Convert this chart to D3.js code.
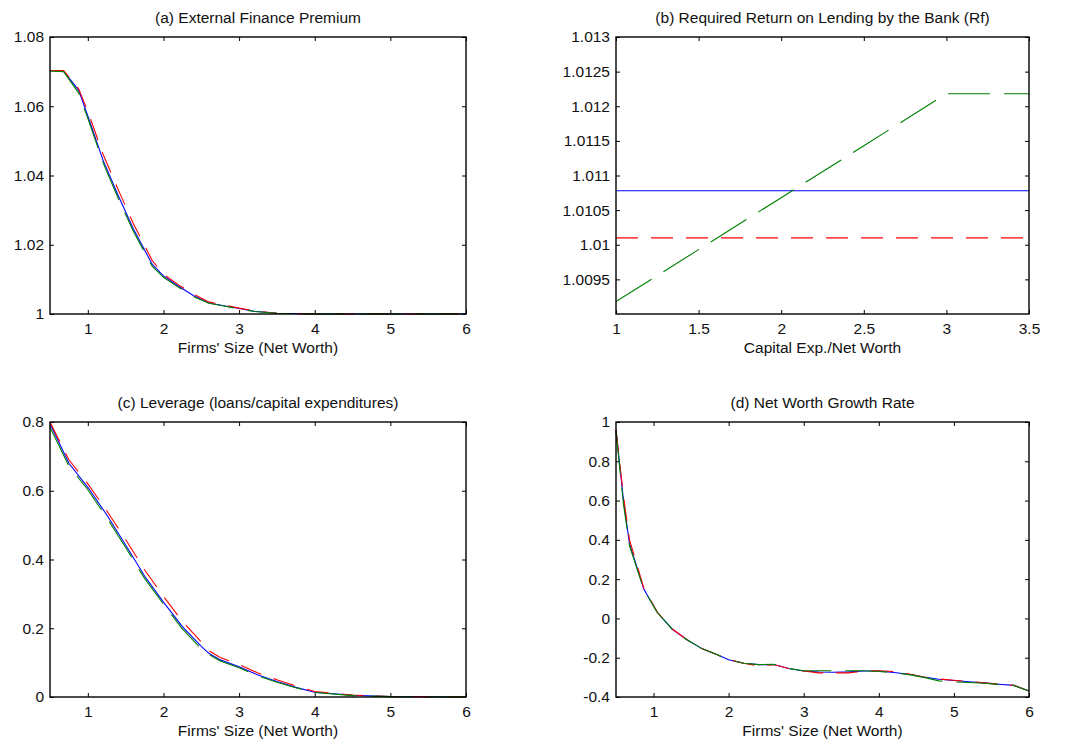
<!DOCTYPE html>
<html><head><meta charset="utf-8">
<script src="https://cdn.jsdelivr.net/npm/d3@7"></script>
<style>
body{margin:0;background:#fff}
text{font-family:"Liberation Sans",Arial,Helvetica,sans-serif;fill:#111}
</style>
</head><body>
<svg id="chart" width="1073" height="744"></svg>
<script>
// ---------- data ----------
// (a) External Finance Premium
const xA = [0.5, 0.68, 0.88, 1.0, 1.2, 1.4, 1.6, 1.85, 2.0, 2.2, 2.4, 2.6, 2.8, 3.0, 3.2, 3.5, 4, 5, 6];
const aBlue  = [1.0703, 1.0702, 1.0646, 1.0572, 1.0445, 1.0343, 1.0247, 1.0144, 1.0110, 1.0080, 1.0053, 1.0032, 1.0024, 1.0016, 1.0008, 1.0002, 1.0, 1.0, 1.0];
const aRed   = [1.0703, 1.0703, 1.0650, 1.0585, 1.0462, 1.0360, 1.0262, 1.0155, 1.0115, 1.0084, 1.0057, 1.0035, 1.0026, 1.0017, 1.0009, 1.0002, 1.0, 1.0, 1.0];
const aGreen = [1.0702, 1.0700, 1.0638, 1.0565, 1.0438, 1.0335, 1.0240, 1.0138, 1.0106, 1.0077, 1.0050, 1.0031, 1.0023, 1.0015, 1.0007, 1.0002, 1.0, 1.0, 1.0];

// (b) Required Return on Lending by the Bank (Rf)
const xB = [1, 1.5, 2, 2.5, 3, 3.5];
const bBlue  = [1.01078, 1.01078, 1.01078, 1.01078, 1.01078, 1.01078];
const bRed   = [1.0101, 1.0101, 1.0101, 1.0101, 1.0101, 1.0101];
const bGreen = [1.00918, 1.00993, 1.01068, 1.01143, 1.01218, 1.01218];

// (c) Leverage (loans/capital expenditures)
const xC = [0.5, 0.75, 1.0, 1.25, 1.5, 1.75, 2.0, 2.25, 2.5, 2.6, 2.75, 3.0, 3.25, 3.5, 3.75, 4.0, 4.5, 5, 6];
const cBlue  = [0.795, 0.680, 0.610, 0.530, 0.442, 0.352, 0.276, 0.205, 0.147, 0.127, 0.108, 0.088, 0.064, 0.045, 0.028, 0.014, 0.005, 0.001, 0.0];
const cRed   = [0.800, 0.690, 0.620, 0.542, 0.458, 0.370, 0.293, 0.220, 0.160, 0.135, 0.115, 0.094, 0.070, 0.050, 0.032, 0.016, 0.006, 0.001, 0.0];
const cGreen = [0.785, 0.672, 0.603, 0.522, 0.435, 0.345, 0.270, 0.198, 0.140, 0.124, 0.105, 0.085, 0.061, 0.043, 0.027, 0.013, 0.004, 0.001, 0.0];

// (d) Net Worth Growth Rate
const xD = [0.5, 0.6, 0.68, 0.87, 1.05, 1.25, 1.45, 1.65, 1.85, 2.0, 2.2, 2.4, 2.6, 2.8, 3.0, 3.2, 3.4, 3.6, 3.8, 4.0, 4.2, 4.4, 4.6, 4.8, 5.0, 5.2, 5.4, 5.6, 5.8, 6.0];
const dBlue  = [0.96, 0.60, 0.38, 0.15, 0.03, -0.055, -0.11, -0.155, -0.185, -0.21, -0.228, -0.235, -0.235, -0.255, -0.268, -0.273, -0.274, -0.272, -0.268, -0.268, -0.275, -0.284, -0.298, -0.310, -0.316, -0.322, -0.328, -0.335, -0.341, -0.370];
const dRed   = [0.96, 0.62, 0.40, 0.155, 0.032, -0.054, -0.11, -0.155, -0.185, -0.21, -0.228, -0.242, -0.235, -0.255, -0.268, -0.277, -0.277, -0.277, -0.268, -0.266, -0.270, -0.283, -0.298, -0.308, -0.315, -0.321, -0.328, -0.335, -0.341, -0.370];
const dGreen = [0.95, 0.58, 0.37, 0.148, 0.03, -0.055, -0.11, -0.155, -0.185, -0.21, -0.228, -0.235, -0.234, -0.255, -0.266, -0.266, -0.266, -0.266, -0.266, -0.270, -0.276, -0.286, -0.300, -0.318, -0.323, -0.326, -0.330, -0.336, -0.342, -0.370];

// ticks and labels
const xTicksSize = [1, 2, 3, 4, 5, 6];
const xTicksB = [1, 1.5, 2, 2.5, 3, 3.5];
const yTicksA = [1, 1.02, 1.04, 1.06, 1.08];
const yTicksB = [1.0095, 1.01, 1.0105, 1.011, 1.0115, 1.012, 1.0125, 1.013];
const yTicksC = [0, 0.2, 0.4, 0.6, 0.8];
const yTicksD = [-0.4, -0.2, 0, 0.2, 0.4, 0.6, 0.8, 1];
const titles = ["(a) External Finance Premium", "(b) Required Return on Lending by the Bank (Rf)",
                "(c) Leverage (loans/capital expenditures)", "(d) Net Worth Growth Rate"];
const xLabels = ["Firms' Size (Net Worth)", "Capital Exp./Net Worth", "Firms' Size (Net Worth)", "Firms' Size (Net Worth)"];

// ---------- drawing ----------
const svg = d3.select("#chart");
const FS = 15.5;
const styles = {
  blue:  {color: "#0000ff", dash: null},
  red:   {color: "#ff0000", dash: "22,13"},
  green: {color: "#008000", dash: "42,14"}
};
const fmt = d => String(+d.toFixed(6));

function panel(box, xDom, yDom, xTicks, yTicks, xs, series, title, xlabel) {
  const g = svg.append("g");
  const x = d3.scaleLinear().domain(xDom).range([box.l, box.r]);
  const y = d3.scaleLinear().domain(yDom).range([box.b, box.t]);
  const tl = 4;

  const styleAxis = sel => {
    sel.select(".domain").remove();
    sel.selectAll(".tick line").attr("stroke", "#000").attr("stroke-width", 1);
    sel.selectAll("text").style("font-size", FS + "px").attr("fill", "#111");
  };
  g.append("g").attr("transform", `translate(0,${box.b})`)
    .call(d3.axisBottom(x).tickValues(xTicks).tickFormat(fmt).tickSize(-tl).tickSizeOuter(0).tickPadding(9))
    .call(styleAxis);
  g.append("g").attr("transform", `translate(0,${box.t})`)
    .call(d3.axisTop(x).tickValues(xTicks).tickFormat("").tickSize(-tl).tickSizeOuter(0))
    .call(styleAxis);
  g.append("g").attr("transform", `translate(${box.l},0)`)
    .call(d3.axisLeft(y).tickValues(yTicks).tickFormat(fmt).tickSize(-tl).tickSizeOuter(0).tickPadding(6))
    .call(styleAxis);
  g.append("g").attr("transform", `translate(${box.r},0)`)
    .call(d3.axisRight(y).tickValues(yTicks).tickFormat("").tickSize(-tl).tickSizeOuter(0))
    .call(styleAxis);

  const line = d3.line().x((d, i) => x(xs[i])).y(d => y(d));
  series.forEach(s => {
    const st = styles[s.key];
    g.append("path").datum(s.values)
      .attr("d", line)
      .attr("fill", "none")
      .attr("stroke", st.color)
      .attr("stroke-width", 1.1)
      .attr("stroke-dasharray", st.dash);
  });

  g.append("rect").attr("x", box.l).attr("y", box.t)
    .attr("width", box.r - box.l).attr("height", box.b - box.t)
    .attr("fill", "none").attr("stroke", "#000").attr("stroke-width", 1.4);

  g.append("text").attr("x", (box.l + box.r) / 2).attr("y", box.t - 20)
    .attr("text-anchor", "middle").attr("dominant-baseline", "central")
    .style("font-size", FS + "px").text(title);
  g.append("text").attr("x", (box.l + box.r) / 2).attr("y", box.b + 33)
    .attr("text-anchor", "middle").attr("dominant-baseline", "central")
    .style("font-size", FS + "px").text(xlabel);
}

const boxA = {l: 50, r: 466, t: 37, b: 314};
const boxB = {l: 616, r: 1029, t: 37, b: 314};
const boxC = {l: 50, r: 466, t: 422, b: 697};
const boxD = {l: 616, r: 1029, t: 422, b: 697};

panel(boxA, [0.5, 6], [1, 1.08], xTicksSize, yTicksA, xA,
  [{key: "blue", values: aBlue}, {key: "red", values: aRed}, {key: "green", values: aGreen}], titles[0], xLabels[0]);
panel(boxB, [1, 3.5], [1.009, 1.013], xTicksB, yTicksB, xB,
  [{key: "blue", values: bBlue}, {key: "red", values: bRed}, {key: "green", values: bGreen}], titles[1], xLabels[1]);
panel(boxC, [0.5, 6], [0, 0.8], xTicksSize, yTicksC, xC,
  [{key: "blue", values: cBlue}, {key: "red", values: cRed}, {key: "green", values: cGreen}], titles[2], xLabels[2]);
panel(boxD, [0.5, 6], [-0.4, 1], xTicksSize, yTicksD, xD,
  [{key: "blue", values: dBlue}, {key: "red", values: dRed}, {key: "green", values: dGreen}], titles[3], xLabels[3]);
</script>
</body></html>
